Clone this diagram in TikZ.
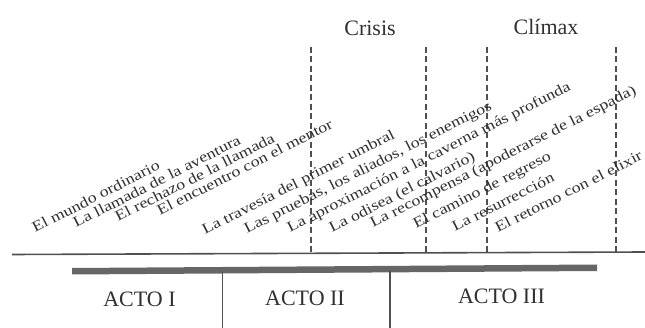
\documentclass[tikz,border=0pt]{standalone}
\usepackage{fontspec}
\setmainfont{Liberation Serif}
\newfontfamily\stagefont[FakeStretch=1.22]{Liberation Serif}
\definecolor{ink}{HTML}{303030}
\definecolor{rule}{HTML}{505050}
\definecolor{barc}{HTML}{666666}
\begin{document}
\begin{tikzpicture}[x=1pt,y=-1pt,
  stage/.style={anchor=base west,inner sep=0pt,rotate=27,text=ink,font=\stagefont\fontsize{14.75}{17}\selectfont},
  big/.style={inner sep=0pt,text=ink,font=\fontsize{22}{24}\selectfont},
  turn/.style={draw=rule,line width=1.5pt,dash pattern=on 6pt off 3.5pt},
  divider/.style={draw=rule,line width=1.3pt}]
\useasboundingbox (0,0) rectangle (645,328);
% baseline and bar
\coordinate (lineL) at (12,254.5);
\coordinate (lineR) at (645,252);
\draw[rule,line width=1.6pt] (lineL) -- (lineR);
\fill[barc] (72,268) -- (597,264.5) -- (597,271) -- (72,274.5) -- cycle;
% dividers
\coordinate (d1t) at (222.5,272.5);
\coordinate (d1b) at (222.5,328);
\coordinate (d2t) at (390,271.5);
\coordinate (d2b) at (390,328);
\draw[divider] (d1t) -- (d1b);
\draw[divider] (d2t) -- (d2b);
% dashed turning points
\foreach \x/\n in {311/a,426/b,487/c,616/d}{
  \coordinate (t\n) at (\x,47);
  \coordinate (b\n) at (\x,253);
  \draw[turn] (t\n) -- (b\n);
}
% top labels
\node[big] (crisis) at (370,28) {Crisis};
\node[big] (climax) at (546,27) {Clímax};
% act labels
\node[big] (a1) at (139.5,299) {ACTO I};
\node[big] (a2) at (305,298) {ACTO II};
\node[big] (a3) at (501.5,296.5) {ACTO III};
% stages
\node[stage] (s1) at (35,233) {El mundo ordinario};
\node[stage] (s2) at (76,228) {La llamada de la aventura};
\node[stage] (s3) at (118,222) {El rechazo de la llamada};
\node[stage] (s4) at (160,216) {El encuentro con el mentor};
\node[stage] (s5) at (205,235) {La travesía del primer umbral};
\node[stage] (s6) at (247,234) {Las pruebas, los aliados, los enemigos};
\node[stage] (s7) at (290,233) {La aproximación a la caverna más profunda};
\node[stage] (s8) at (332,233) {La odisea (el calvario)};
\node[stage] (s9) at (373,228) {La recompensa (apoderarse de la espada)};
\node[stage] (s10) at (416,229) {El camino de regreso};
\node[stage] (s11) at (455,232) {La resurrección};
\node[stage] (s12) at (498,233) {El retorno con el elixir};
\end{tikzpicture}
\end{document}
